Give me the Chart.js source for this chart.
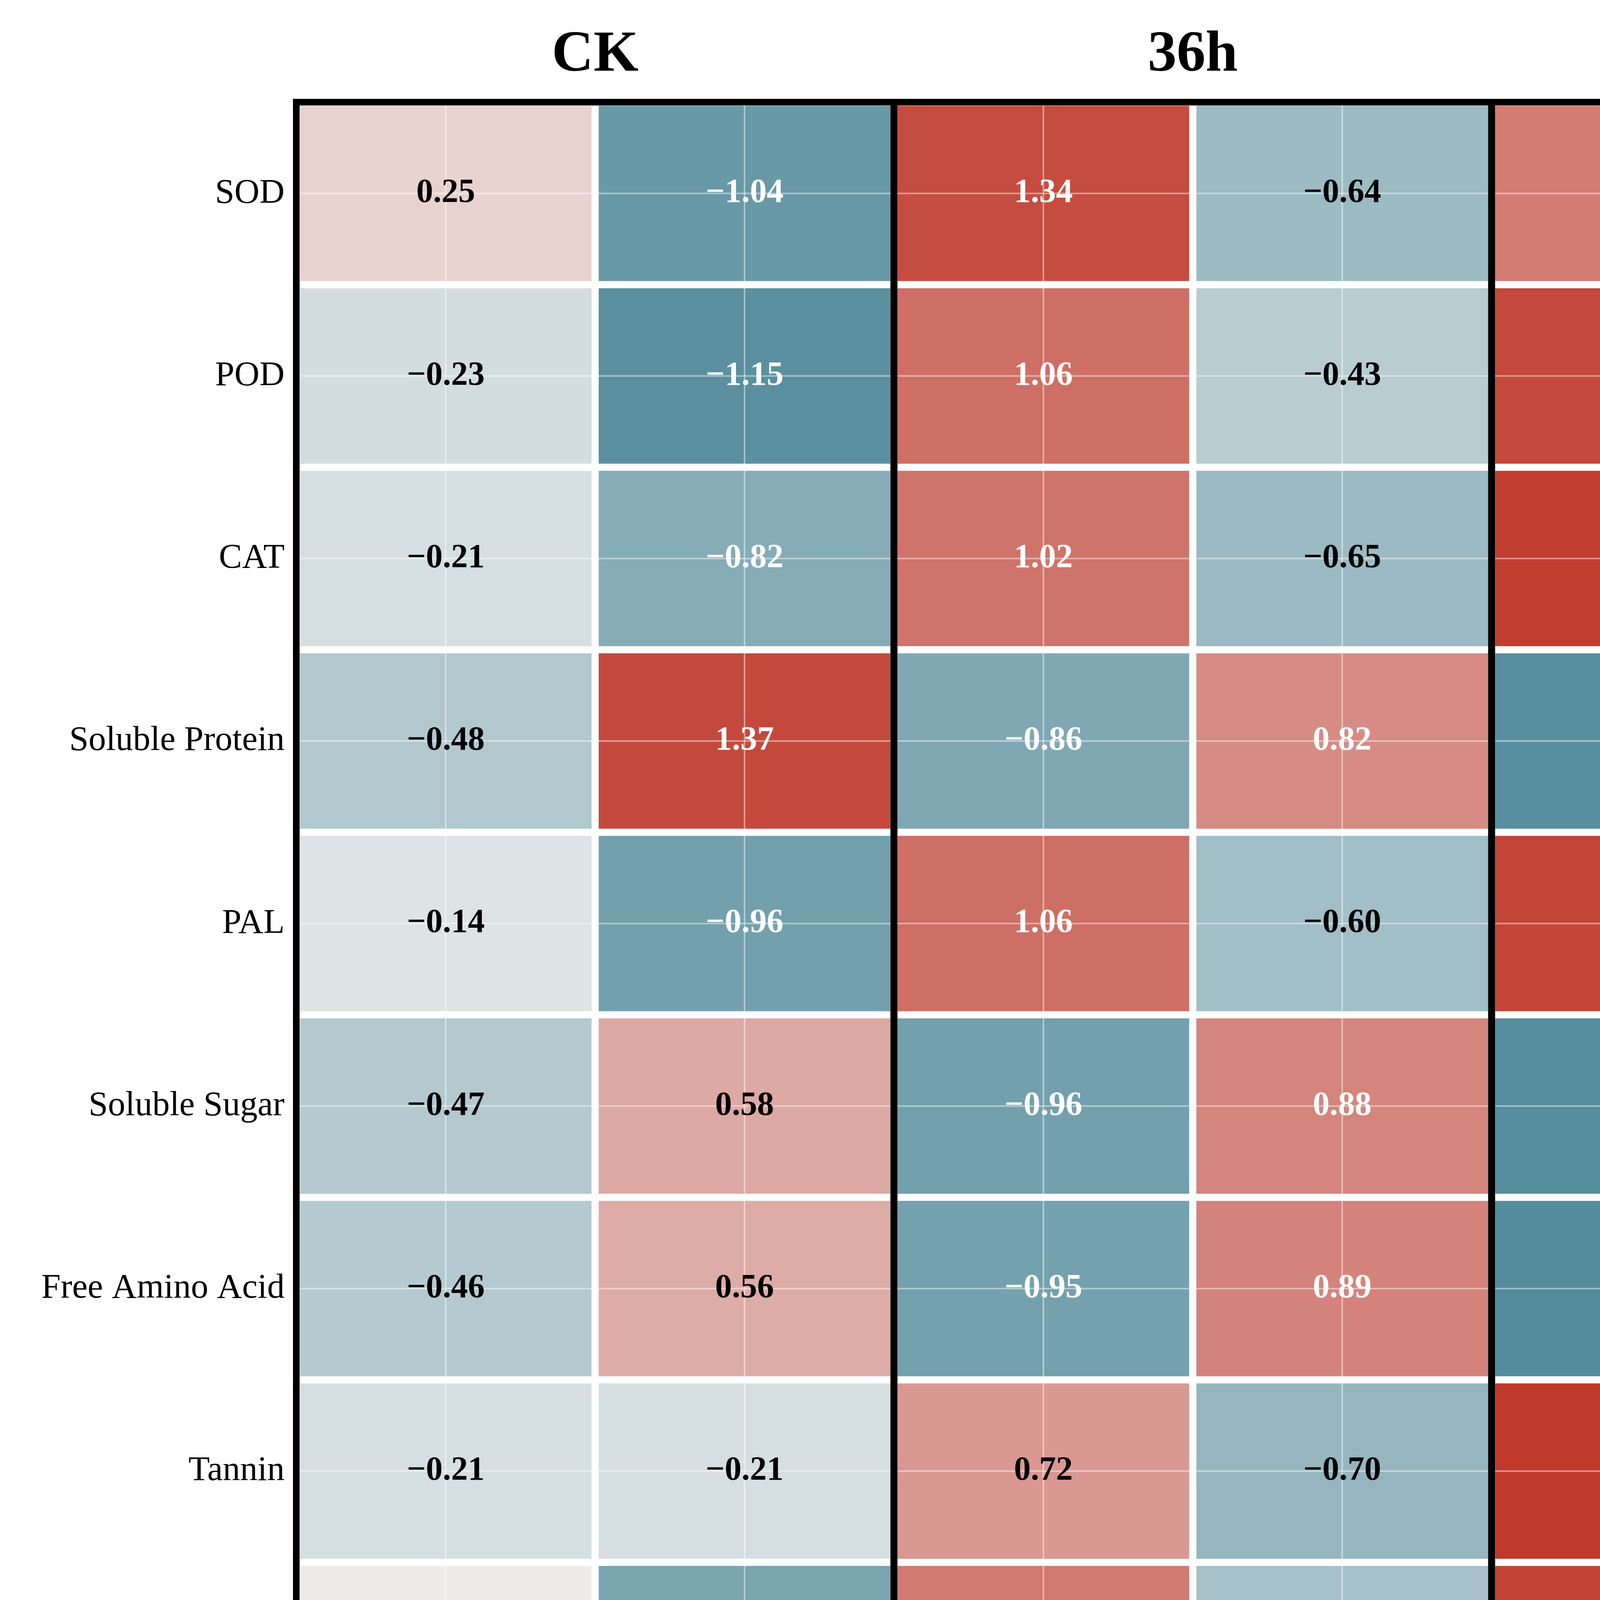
<!DOCTYPE html>
<html>
<head>
<meta charset="utf-8">
<title>Z-score heatmap</title>
<script src="https://cdn.jsdelivr.net/npm/chart.js@4.4.1/dist/chart.umd.min.js"></script>
<style>
  html, body { margin: 0; padding: 0; background: #ffffff; }
  #wrap { position: relative; width: 6198px; height: 5590px; }
  #wrap canvas { position: absolute; left: 0; top: 0; }
</style>
</head>
<body>
<div id="wrap">
  <canvas id="heatmap" width="6198" height="5590"></canvas>
  <canvas id="colorbar" width="6198" height="5590"></canvas>
</div>
<script>
// --- data -------------------------------------------------------------
const rows = [
  "SOD", "POD", "CAT", "Soluble Protein", "PAL", "Soluble Sugar",
  "Free Amino Acid", "Tannin", "Total Phenol", "Flavonoid", "Lignin",
];
const columns = ["R-A", "S-A", "R-B", "S-B", "R-C", "S-C"];
const groups = ["CK", "36h", "72h"];

// one array per column, top row first
const rA = [0.25, -0.23, -0.21, -0.48, -0.14, -0.47, -0.46, -0.21, 0.04, 0.17, 0.90];
const sA = [-1.04, -1.15, -0.82, 1.37, -0.96, 0.58, 0.56, -0.21, -0.90, -0.89, -0.94];
const rB = [1.34, 1.06, 1.02, -0.86, 1.06, -0.96, -0.95, 0.72, 0.97, 1.00, 0.99];
const sB = [-0.64, -0.43, -0.65, 0.82, -0.60, 0.88, 0.89, -0.70, -0.55, -0.64, -0.97];
const rC = [0.95, 1.38, 1.47, -1.17, 1.40, -1.19, -1.20, 1.58, 1.41, 1.34, 0.84];
const sC = [-0.86, -0.63, -0.81, 0.31, -0.77, 1.16, 1.16, -1.18, -0.98, -0.99, -0.82];

const colorbarRange = [-1.5, 1.5];

// --- colour map -------------------------------------------------------
const SERIF = "'Liberation Serif', 'Times New Roman', serif";
const VMIN = colorbarRange[0];
const VMAX = colorbarRange[1];
const LOW = [44, 115, 135];
const MID = [240, 240, 240];
const HIGH = [192, 57, 43];

const mix = (a, b, t) => a.map((c, k) => Math.round(c + (b[k] - c) * t));
const colorFor = (v) => {
  const t = Math.min(1, Math.max(0, (v - VMIN) / (VMAX - VMIN)));
  const rgb = t < 0.5 ? mix(LOW, MID, t * 2) : mix(MID, HIGH, (t - 0.5) * 2);
  return `rgb(${rgb[0]}, ${rgb[1]}, ${rgb[2]})`;
};
// matplotlib style minus sign
const fmt = (v, d) => (v < 0 ? "\u2212" : "") + Math.abs(v).toFixed(d);

// --- heatmap ----------------------------------------------------------
const series = [rA, sA, rB, sB, rC, sC];

const datasets = series.map((vals, j) => ({
  label: columns[j],
  data: vals.map(() => 1), // every cell is one unit wide, colour carries the value
  zscores: vals,
  backgroundColor: vals.map(colorFor),
  borderColor: "#ffffff",
  borderWidth: 9.5,
  borderSkipped: false,
  barPercentage: 1,
  categoryPercentage: 1,
}));

const cellPlugin = {
  id: "cells",
  afterDatasetsDraw(chart) {
    const { ctx, chartArea: a, scales } = chart;
    ctx.save();

    // faint white grid through the cell centres
    ctx.strokeStyle = "rgba(255, 255, 255, 0.45)";
    ctx.lineWidth = 4;
    columns.forEach((_, j) => {
      const x = scales.xCols.getPixelForValue(j);
      ctx.beginPath();
      ctx.moveTo(x, a.top);
      ctx.lineTo(x, a.bottom);
      ctx.stroke();
    });
    rows.forEach((_, i) => {
      const y = scales.y.getPixelForValue(i);
      ctx.beginPath();
      ctx.moveTo(a.left, y);
      ctx.lineTo(a.right, y);
      ctx.stroke();
    });

    // value labels
    ctx.font = `bold 86px ${SERIF}`;
    ctx.textAlign = "center";
    ctx.textBaseline = "middle";
    chart.data.datasets.forEach((ds, j) => {
      chart.getDatasetMeta(j).data.forEach((bar, i) => {
        const v = ds.zscores[i];
        const p = bar.getCenterPoint();
        ctx.fillStyle = Math.abs(v) > 0.78 ? "#ffffff" : "#000000";
        ctx.fillText(fmt(v, 2), p.x, p.y);
      });
    });
    ctx.restore();
  },
  afterDraw(chart) {
    // black frame and the separators between CK / 36h / 72h
    const { ctx, chartArea: a, scales } = chart;
    ctx.save();
    ctx.strokeStyle = "#000000";
    ctx.lineWidth = 18;
    [2, 4].forEach((k) => {
      const x = scales.x.getPixelForValue(k);
      ctx.beginPath();
      ctx.moveTo(x, a.top);
      ctx.lineTo(x, a.bottom);
      ctx.stroke();
    });
    ctx.lineWidth = 17;
    ctx.strokeRect(a.left, a.top, a.right - a.left, a.bottom - a.top);
    ctx.restore();
  },
};

new Chart(document.getElementById("heatmap"), {
  type: "bar",
  data: { labels: rows, datasets },
  options: {
    indexAxis: "y",
    responsive: false,
    devicePixelRatio: 1,
    animation: false,
    layout: { padding: { left: 0, top: 0, right: 849.5, bottom: 0 } },
    plugins: {
      legend: { display: false },
      tooltip: { enabled: false },
    },
    scales: {
      x: { type: "linear", display: false, stacked: true, min: 0, max: 6 },
      y: {
        type: "category",
        position: "left",
        stacked: true,
        grid: { display: false },
        border: { display: false },
        ticks: {
          font: { family: SERIF, size: 89 },
          color: "#000000",
          padding: 22,
          autoSkip: false,
        },
        afterFit: (s) => { s.width = 758.5; },
      },
      xCols: {
        type: "category",
        position: "bottom",
        labels: columns,
        offset: true,
        grid: { display: false },
        border: { display: false },
        ticks: {
          font: { family: SERIF, size: 108, weight: "bold" },
          color: "#000000",
          padding: 8,
          maxRotation: 0,
          autoSkip: false,
        },
        afterFit: (s) => { s.height = 188.5; },
      },
      xTop: {
        type: "category",
        position: "top",
        labels: groups,
        offset: true,
        grid: { display: false },
        border: { display: false },
        ticks: {
          font: { family: SERIF, size: 148, weight: "bold" },
          color: "#000000",
          padding: 22,
          maxRotation: 0,
          autoSkip: false,
        },
        afterFit: (s) => { s.height = 261.5; },
      },
    },
  },
  plugins: [cellPlugin],
});

// --- colour bar -------------------------------------------------------
new Chart(document.getElementById("colorbar"), {
  type: "bar",
  data: {
    labels: [""],
    datasets: [
      {
        data: [colorbarRange],
        backgroundColor: (c) => {
          const area = c.chart.chartArea;
          if (!area) return colorFor(0);
          const g = c.chart.ctx.createLinearGradient(0, area.bottom, 0, area.top);
          g.addColorStop(0, colorFor(VMIN));
          g.addColorStop(0.5, colorFor(0));
          g.addColorStop(1, colorFor(VMAX));
          return g;
        },
        borderWidth: 0,
        barPercentage: 1,
        categoryPercentage: 1,
      },
    ],
  },
  options: {
    responsive: false,
    devicePixelRatio: 1,
    animation: false,
    layout: { padding: { left: 5516, top: 1163, right: 0, bottom: 1089 } },
    plugins: {
      legend: { display: false },
      tooltip: { enabled: false },
    },
    scales: {
      x: { display: false },
      y: {
        position: "right",
        min: VMIN,
        max: VMAX,
        grid: {
          drawOnChartArea: false,
          drawTicks: true,
          tickLength: 29,
          tickWidth: 5,
          tickColor: "#000000",
        },
        border: { display: false },
        ticks: {
          stepSize: 0.5,
          padding: 28,
          color: "#000000",
          font: { family: SERIF, size: 86 },
          callback: (v) => fmt(v, 1),
        },
        title: {
          display: true,
          text: "Z-score (Standardized Value)",
          color: "#000000",
          font: { family: SERIF, size: 104, weight: "bold" },
          padding: { top: 38, bottom: 0 },
        },
        afterFit: (s) => { s.width = 498; },
      },
    },
  },
});
</script>
</body>
</html>
